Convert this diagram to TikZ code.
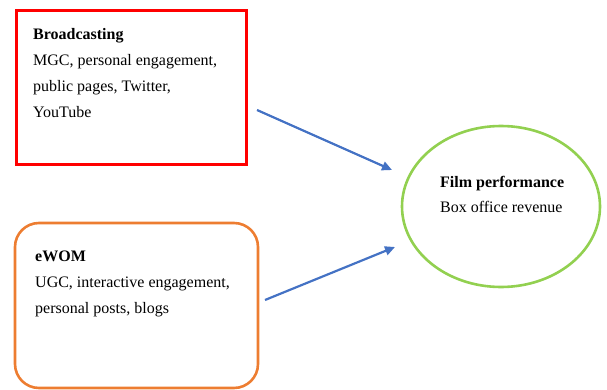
\documentclass[tikz,border=0pt]{standalone}
\usepackage{fontspec}
\setmainfont{Liberation Serif}
\usetikzlibrary{arrows.meta,shapes.geometric}
\definecolor{bred}{RGB}{255,0,0}
\definecolor{eorange}{RGB}{237,125,49}
\definecolor{fgreen}{RGB}{146,208,80}
\definecolor{ablue}{RGB}{68,114,196}
\tikzset{
  txt/.style={anchor=base west, inner sep=0pt, font=\fontsize{16}{26}\selectfont},
  conn/.style={draw=ablue, line width=2.2pt, -{Triangle[length=10pt,width=9pt]}},
}
\begin{document}
\begin{tikzpicture}[x=1pt,y=-1pt]
\useasboundingbox (0,0) rectangle (607,390);
\node[draw=bred, line width=3pt, minimum width=230pt, minimum height=154pt, inner sep=0pt] (bc) at (131,87.5) {};
\node[draw=eorange, line width=2.6pt, rounded corners=24pt, minimum width=243pt, minimum height=165pt, inner sep=0pt] (ew) at (136.5,305.5) {};
\node[draw=fgreen, line width=2.6pt, ellipse, minimum width=198pt, minimum height=161pt, inner sep=0pt] (fp) at (501,206.5) {};
\node[txt] (bct) at (33,40) {\bfseries Broadcasting};
\node[txt] (bc1) at (33,66) {MGC, personal engagement,};
\node[txt] (bc2) at (33,92) {public pages, Twitter,};
\node[txt] (bc3) at (33,118) {YouTube};
\node[txt] (ewt) at (35,261) {\bfseries eWOM};
\node[txt] (ew1) at (35,287) {UGC, interactive engagement,};
\node[txt] (ew2) at (35,313) {personal posts, blogs};
\node[txt] (fpt) at (440,187) {\bfseries Film performance};
\node[txt] (fp1) at (440,212) {Box office revenue};
\coordinate (a1s) at (257,110);
\coordinate (a1e) at (392,170);
\coordinate (a2s) at (265,300);
\coordinate (a2e) at (395,247);
\draw[conn] (a1s) -- (a1e);
\draw[conn] (a2s) -- (a2e);
\end{tikzpicture}
\end{document}
